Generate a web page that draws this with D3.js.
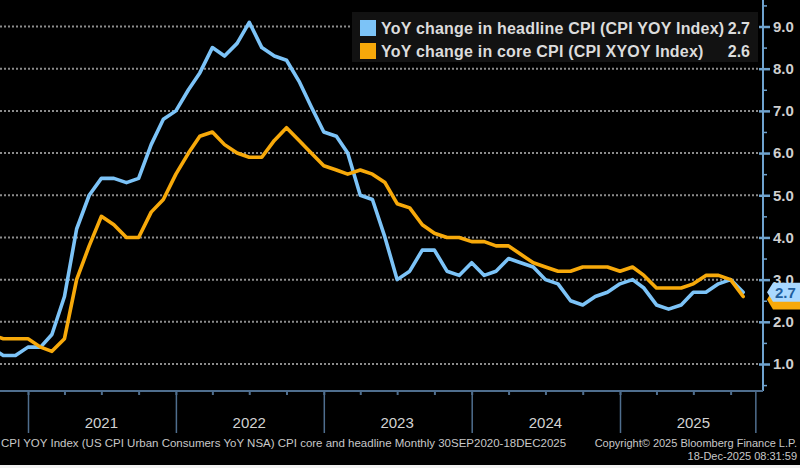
<!DOCTYPE html>
<html>
<head>
<meta charset="utf-8">
<script src="https://cdn.jsdelivr.net/npm/d3@7"></script>
<style>
  html, body { margin: 0; padding: 0; background: #000; overflow: hidden; }
  svg { display: block; }
  text { font-family: "Liberation Sans", Arial, sans-serif; }
</style>
</head>
<body>
<svg id="chart" width="800" height="468"></svg>
<script>
// ---- data ----
const months = [
  "2020-09","2020-10","2020-11","2020-12",
  "2021-01","2021-02","2021-03","2021-04","2021-05","2021-06","2021-07","2021-08","2021-09","2021-10","2021-11","2021-12",
  "2022-01","2022-02","2022-03","2022-04","2022-05","2022-06","2022-07","2022-08","2022-09","2022-10","2022-11","2022-12",
  "2023-01","2023-02","2023-03","2023-04","2023-05","2023-06","2023-07","2023-08","2023-09","2023-10","2023-11","2023-12",
  "2024-01","2024-02","2024-03","2024-04","2024-05","2024-06","2024-07","2024-08","2024-09","2024-10","2024-11","2024-12",
  "2025-01","2025-02","2025-03","2025-04","2025-05","2025-06","2025-07","2025-08","2025-09","2025-10"
];
const headlineCPI = [
  1.4,1.2,1.2,1.4,
  1.4,1.7,2.6,4.2,5.0,5.4,5.4,5.3,5.4,6.2,6.8,7.0,
  7.5,7.9,8.5,8.3,8.6,9.1,8.5,8.3,8.2,7.7,7.1,6.5,
  6.4,6.0,5.0,4.9,4.0,3.0,3.2,3.7,3.7,3.2,3.1,3.4,
  3.1,3.2,3.5,3.4,3.3,3.0,2.9,2.5,2.4,2.6,2.7,2.9,
  3.0,2.8,2.4,2.3,2.4,2.7,2.7,2.9,3.0,2.7
];
const coreCPI = [
  1.7,1.6,1.6,1.6,
  1.4,1.3,1.6,3.0,3.8,4.5,4.3,4.0,4.0,4.6,4.9,5.5,
  6.0,6.4,6.5,6.2,6.0,5.9,5.9,6.3,6.6,6.3,6.0,5.7,
  5.6,5.5,5.6,5.5,5.3,4.8,4.7,4.3,4.1,4.0,4.0,3.9,
  3.9,3.8,3.8,3.6,3.4,3.3,3.2,3.2,3.3,3.3,3.3,3.2,
  3.3,3.1,2.8,2.8,2.8,2.9,3.1,3.1,3.0,2.6
];
const yTickValues = [1,2,3,4,5,6,7,8,9];
const yearLabels = ["2021","2022","2023","2024","2025"];
const seriesNames = ["YoY change in headline CPI (CPI YOY Index)", "YoY change in core CPI (CPI XYOY Index)"];
const lastValues = ["2.7", "2.6"];
const footerLeft = "CPI YOY Index (US CPI Urban Consumers YoY NSA) CPI core and headline Monthly 30SEP2020-18DEC2025";
const footerRight1 = "Copyright\u00A9 2025 Bloomberg Finance L.P.";
const footerRight2 = "18-Dec-2025 08:31:59";

// ---- setup ----
const svg = d3.select("#chart");
const W = 800, H = 468;
const axisX = 763, axisY = 391;
const BLUE = "#7cc3f7", ORANGE = "#f7a90a";

svg.append("rect").attr("width", W).attr("height", H).attr("fill", "#000");

const parse = d3.timeParse("%Y-%m");
// Bloomberg places each monthly observation at the end of its month
const dates = months.map(m => d3.timeMonth.offset(parse(m), 1));

const x = d3.scaleTime()
  .domain([new Date(2021, 0, 1), new Date(2025, 0, 1)])
  .range([28, 620]);
const y = d3.scaleLinear().domain([1, 9]).range([364, 26.5]);

// ---- gridlines ----
svg.append("g").selectAll("line").data(yTickValues).join("line")
  .attr("x1", 0).attr("x2", axisX - 4)
  .attr("y1", d => y(d)).attr("y2", d => y(d))
  .attr("stroke", "#8c8c8c").attr("stroke-width", 2)
  .attr("stroke-dasharray", "2,2");

// ---- lines ----
const lineGen = vals => d3.line()
  .x((d, i) => x(dates[i]))
  .y(d => y(d))(vals);

svg.append("path").attr("d", lineGen(headlineCPI))
  .attr("fill", "none").attr("stroke", BLUE).attr("stroke-width", 3.6)
  .attr("stroke-linejoin", "round").attr("stroke-linecap", "round");
svg.append("path").attr("d", lineGen(coreCPI))
  .attr("fill", "none").attr("stroke", ORANGE).attr("stroke-width", 3.6)
  .attr("stroke-linejoin", "round").attr("stroke-linecap", "round");

// ---- legend ----
const lg = svg.append("g");
lg.append("rect").attr("x", 352).attr("y", 12).attr("width", 406).attr("height", 50)
  .attr("fill", "#121212");
[BLUE, ORANGE].forEach((c, i) => {
  const yy = 20 + i * 23;
  lg.append("rect").attr("x", 360).attr("y", yy).attr("width", 16).attr("height", 16).attr("fill", c);
  lg.append("text").attr("x", 381).attr("y", yy + 14)
    .attr("fill", "#dcdcdc").attr("font-size", 16).attr("font-weight", "bold")
    .attr("letter-spacing", 0.2)
    .text(seriesNames[i]);
  lg.append("text").attr("x", 750).attr("y", yy + 14).attr("text-anchor", "end")
    .attr("fill", "#dcdcdc").attr("font-size", 16).attr("font-weight", "bold")
    .text(lastValues[i]);
});

// ---- y axis (right) ----
const AXIS_COL = "#6fa3cf";
const yMinor = d3.range(0.5, 10, 1);
const gyMinor = svg.append("g").attr("transform", `translate(${axisX},0)`)
  .call(d3.axisRight(y).tickValues(yMinor).tickSize(4).tickFormat(""));
gyMinor.select(".domain").remove();
gyMinor.selectAll("line").attr("stroke", AXIS_COL).attr("stroke-width", 1.5);

const gy = svg.append("g").attr("transform", `translate(${axisX},0)`)
  .call(d3.axisRight(y).tickValues(yTickValues).tickSize(7).tickPadding(3).tickFormat(d3.format(".1f")));
gy.select(".domain").remove();
gy.selectAll(".tick line").attr("x1", -4).attr("stroke", AXIS_COL).attr("stroke-width", 2.5);
gy.selectAll(".tick text").attr("fill", "#cfcfcf").attr("font-size", 15).attr("font-weight", "bold")
  .attr("font-family", "Liberation Sans, Arial, sans-serif");

svg.append("line").attr("x1", axisX).attr("x2", axisX).attr("y1", 0).attr("y2", axisY)
  .attr("stroke", AXIS_COL).attr("stroke-width", 2);

// ---- x axis ----
const XCOL = "#4f6e8e";
svg.append("line").attr("x1", 0).attr("x2", axisX).attr("y1", axisY).attr("y2", axisY)
  .attr("stroke", XCOL).attr("stroke-width", 2);

const quarters = d3.timeMonth.every(3).range(new Date(2020, 9, 1), new Date(2025, 11, 1));
const gxMinor = svg.append("g").attr("transform", `translate(0,${axisY})`)
  .call(d3.axisBottom(x).tickValues(quarters).tickSize(4).tickFormat(""));
gxMinor.select(".domain").remove();
gxMinor.selectAll("line").attr("stroke", XCOL).attr("stroke-width", 2);

const yearStarts = yearLabels.map(s => new Date(+s, 0, 1)).concat([new Date(2025, 11, 1)]);
const gxMajor = svg.append("g").attr("transform", `translate(0,${axisY})`)
  .call(d3.axisBottom(x).tickValues(yearStarts).tickSize(42).tickFormat(""));
gxMajor.select(".domain").remove();
gxMajor.selectAll("line").attr("stroke", XCOL).attr("stroke-width", 1.5);

svg.append("g").selectAll("text").data(yearLabels).join("text")
  .attr("x", d => x(new Date(+d, 6, 1)))
  .attr("y", 428).attr("text-anchor", "middle")
  .attr("fill", "#d2d2d2").attr("font-size", 15)
  .text(d => d);

// ---- right-hand value tags (core tag sits mostly hidden behind headline tag) ----
function tagShape(val, fill, dy, h) {
  const yy = y(+val) + dy;
  return svg.append("path")
    .attr("d", `M767,${yy} L773,${yy - h / 2} L802,${yy - h / 2} L802,${yy + h / 2} L773,${yy + h / 2} Z`)
    .attr("fill", fill);
}
tagShape(lastValues[1], ORANGE, 3, 20);
tagShape(lastValues[0], "#a9d8ff", 0, 19);
svg.append("text").attr("x", 775).attr("y", y(+lastValues[0]) + 5.5)
  .attr("fill", "#1f5f9e").attr("font-size", 15).attr("font-weight", "bold").text(lastValues[0]);

// ---- footer ----
svg.append("text").attr("x", 1).attr("y", 447)
  .attr("fill", "#c8c8c8").attr("font-size", 11.5).text(footerLeft);
svg.append("text").attr("x", 797).attr("y", 447).attr("text-anchor", "end")
  .attr("fill", "#c8c8c8").attr("font-size", 11).text(footerRight1);
svg.append("text").attr("x", 797).attr("y", 460).attr("text-anchor", "end")
  .attr("fill", "#c8c8c8").attr("font-size", 11).text(footerRight2);

svg.append("rect").attr("x", 0).attr("y", 465).attr("width", W).attr("height", 3).attr("fill", "#f2f2f2");
</script>
</body>
</html>
